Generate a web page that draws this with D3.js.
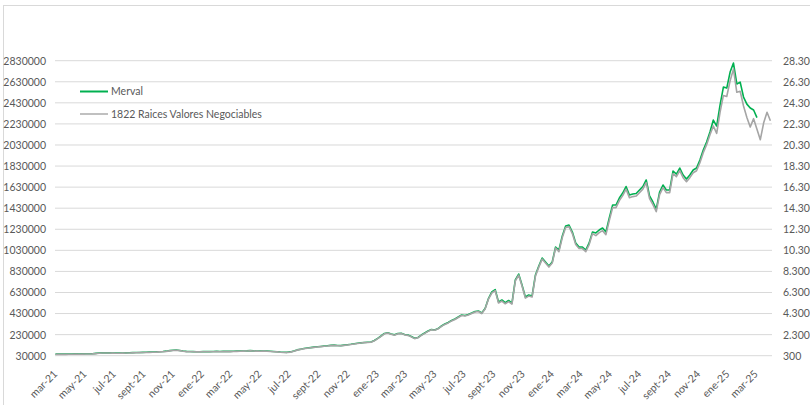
<!DOCTYPE html>
<html>
<head>
<meta charset="utf-8">
<script src="https://cdn.jsdelivr.net/npm/d3@7"></script>
<style>
  body { margin: 0; background: #fff; }
  svg { display: block; font-family: Lato, "Liberation Sans", sans-serif; }
</style>
</head>
<body>
<svg id="chart" width="810" height="405"></svg>
<script>
// Weekly closes, first observation Monday 1 March 2021
const firstWeek = "2021-03-01";

// S&P Merval index (points) – left axis
const merval = [
  45000, 45000, 46000, 45000, 46000, 46000, 47000, 46000, 47000, 48000, 48000, 49000,
  52000, 55000, 57000, 58000,
  57000, 56000, 55000, 55000, 56000, 57000, 58000, 59000, 60000,
  61000, 62000, 63000, 64000, 65000, 66000, 68000, 70000, 73000,
  78000, 82000, 84000, 80000,
  74000, 71000, 70000, 69000, 68000, 68000,
  69000, 70000, 69000, 70000, 71000, 70000, 71000, 72000, 71000, 72000, 73000, 74000, 75000, 76000,
  78000, 76000, 75000, 74000, 75000, 74000,
  72000, 70000, 68000, 65000, 63000, 62000,
  66000, 75000, 85000, 92000, 98000, 103000, 107000, 111000, 115000, 118000,
  121000, 124000, 128000, 130000, 127000, 126000, 130000,
  134000, 138000, 143000, 148000, 152000, 156000, 158000,
  160000, 174000, 195000, 217000, 241000, 248000, 236000, 228000, 241000, 243000,
  231000, 226000, 212000, 195000, 203000, 226000, 245000, 264000, 279000, 274000,
  288000, 312000, 331000, 345000, 364000, 378000, 397000, 416000, 412000, 421000,
  435000, 450000, 454000, 435000, 478000, 573000,
  635000, 658000, 540000, 559000, 533000, 554000, 530000, 749000, 805000, 701000,
  587000, 606000, 597000, 796000, 881000, 957000, 919000, 881000, 919000, 1062000,
  1033000, 1166000, 1261000, 1270000, 1204000, 1100000, 1062000, 1062000, 1033000, 1100000,
  1204000,
  1195000, 1223000, 1242000, 1204000, 1337000, 1460000, 1460000, 1527000, 1574000, 1636000,
  1555000, 1565000, 1570000, 1603000, 1636000, 1698000, 1546000, 1489000, 1422000, 1584000,
  1650000, 1603000, 1603000, 1783000, 1754000, 1811000, 1745000, 1707000, 1745000, 1792000,
  1811000, 1887000, 1982000, 2058000, 2153000,
  2267000, 2210000, 2409000, 2580000, 2570000, 2722000, 2808000, 2609000, 2627000, 2485000,
  2418000, 2381000, 2362000, 2290000
];

// 1822 Raices Valores Negociables – share value, right axis
const raices = [
  430, 430, 440, 430, 440, 440, 450, 440, 450, 460, 460, 470,
  500, 530, 550, 560,
  550, 540, 530, 530, 540, 550, 560, 570, 580,
  590, 600, 610, 620, 630, 640, 660, 680, 710,
  760, 800, 820, 780,
  720, 690, 680, 670, 660, 660,
  670, 680, 670, 680, 690, 680, 690, 700, 690, 700, 710, 720, 730, 740,
  760, 740, 730, 720, 730, 720,
  700, 680, 660, 630, 610, 600,
  640, 730, 830, 900, 960, 1010, 1050, 1090, 1130, 1160,
  1190, 1220, 1260, 1280, 1250, 1240, 1280,
  1320, 1360, 1410, 1460, 1500, 1540, 1560,
  1570, 1710, 1920, 2140, 2380, 2450, 2330, 2250, 2380, 2400,
  2280, 2230, 2090, 1920, 2000, 2230, 2420, 2610, 2760, 2710,
  2850, 3080, 3270, 3410, 3600, 3740, 3930, 4110, 4070, 4160,
  4300, 4450, 4490, 4300, 4730, 5670,
  6250, 6480, 5300, 5490, 5230, 5440, 5200, 7390, 7950, 6910,
  5770, 5960, 5870, 7860, 8710, 9470, 9090, 8710, 9090, 10520,
  10180, 11510, 12460, 12550, 11890, 10850, 10470, 10470, 10180, 10850,
  11890,
  11700, 11980, 12170, 11790, 13120, 14350, 14350, 15020, 15490, 16110,
  15300, 15400, 15450, 15780, 16110, 16730, 15210, 14640, 13970, 15590,
  16250, 15780, 15780, 17580, 17290, 17860, 17200, 16820, 17200, 17670,
  17860, 18620, 19570, 20330, 21280,
  22100, 21400, 23400, 25000, 24900, 26400, 27500, 25300, 25400, 24000,
  22900, 22000, 22800, 21800, 20800, 22400, 23400, 22600
];

const seriesNames = ["Merval", "1822 Raices Valores Negociables"];
const seriesColors = ["#00b050", "#a5a5a5"];

const leftTicks = [30000, 230000, 430000, 630000, 830000, 1030000, 1230000, 1430000,
                   1630000, 1830000, 2030000, 2230000, 2430000, 2630000, 2830000];
const rightTicks = [300, 2300, 4300, 6300, 8300, 10300, 12300, 14300,
                    16300, 18300, 20300, 22300, 24300, 26300, 28300];
const monthNames = ["ene", "feb", "mar", "abr", "may", "jun",
                    "jul", "ago", "sept", "oct", "nov", "dic"];

// ---- layout ----
const svg = d3.select("#chart");
const plot = { left: 55, right: 772, top: 60.7, bottom: 355.7 };

const parse = d3.timeParse("%Y-%m-%d");
const start = parse(firstWeek);
const weeks = n => d3.range(n).map(i => d3.timeDay.offset(start, 7 * i));
const mervalDates = weeks(merval.length);
const raicesDates = weeks(raices.length);

const x = d3.scaleTime()
  .domain([new Date(2021, 2, 1), new Date(2025, 2, 1)])
  .range([55.5, 756]);
const yLeft = d3.scaleLinear()
  .domain([leftTicks[0], leftTicks[leftTicks.length - 1]])
  .range([plot.bottom, plot.top]);
const yRight = d3.scaleLinear()
  .domain([rightTicks[0], rightTicks[rightTicks.length - 1]])
  .range([plot.bottom, plot.top]);

// outer chart frame
svg.append("rect")
  .attr("x", 3.5).attr("y", 5.5)
  .attr("width", 900).attr("height", 500)
  .attr("fill", "none").attr("stroke", "#d9d9d9");

// horizontal gridlines
svg.append("g")
  .selectAll("line")
  .data(leftTicks)
  .join("line")
  .attr("x1", plot.left).attr("x2", plot.right)
  .attr("y1", d => yLeft(d)).attr("y2", d => yLeft(d))
  .attr("stroke", "#d9d9d9").attr("stroke-width", 1);

// left axis
const leftAxis = svg.append("g")
  .attr("transform", `translate(${plot.left - 9},0)`)
  .call(d3.axisLeft(yLeft).tickValues(leftTicks).tickFormat(d3.format("d")).tickSize(0).tickPadding(0));
leftAxis.select(".domain").remove();
leftAxis.selectAll("text")
  .attr("fill", "#595959").attr("font-size", "10.5px").attr("font-family", "Lato, sans-serif");

// right axis (thousands separated by dots)
const es = d3.formatLocale({ decimal: ",", thousands: ".", grouping: [3], currency: ["$", ""] });
const rightAxis = svg.append("g")
  .attr("transform", `translate(${plot.right + 11},0)`)
  .call(d3.axisRight(yRight).tickValues(rightTicks).tickFormat(es.format(",")).tickSize(0).tickPadding(0));
rightAxis.select(".domain").remove();
rightAxis.selectAll("text")
  .attr("fill", "#595959").attr("font-size", "10.5px").attr("font-family", "Lato, sans-serif");

// bottom axis: every two months, labels slanted
const tickDates = d3.timeMonth.every(2).range(new Date(2021, 2, 1), new Date(2025, 2, 2));
const fmtTick = d => `${monthNames[d.getMonth()]}-${String(d.getFullYear()).slice(2)}`;
const bottomAxis = svg.append("g")
  .attr("transform", `translate(0,${plot.bottom})`)
  .call(d3.axisBottom(x).tickValues(tickDates).tickFormat(fmtTick).tickSize(0).tickPadding(0));
bottomAxis.select(".domain").remove();
bottomAxis.selectAll("text")
  .attr("fill", "#595959").attr("font-size", "10.5px").attr("font-family", "Lato, sans-serif")
  .attr("text-anchor", "end")
  .attr("dy", 0)
  .attr("transform", "translate(2,19) rotate(-45)");

// series lines (the fund is drawn over the index)
const lineLeft = d3.line().x((d, i) => x(mervalDates[i])).y(d => yLeft(d));
const lineRight = d3.line().x((d, i) => x(raicesDates[i])).y(d => yRight(d));

svg.append("path")
  .datum(merval)
  .attr("d", lineLeft)
  .attr("fill", "none").attr("stroke", seriesColors[0])
  .attr("stroke-width", 1.6).attr("stroke-linejoin", "round");

svg.append("path")
  .datum(raices)
  .attr("d", lineRight)
  .attr("fill", "none").attr("stroke", seriesColors[1])
  .attr("stroke-width", 1.6).attr("stroke-linejoin", "round");

// legend
const legend = svg.append("g").attr("transform", "translate(80,91.5)");
const items = legend.selectAll("g")
  .data(seriesNames)
  .join("g")
  .attr("transform", (d, i) => `translate(0,${i * 22.5})`);
items.append("line")
  .attr("x1", 0).attr("x2", 28).attr("y1", 0).attr("y2", 0)
  .attr("stroke", (d, i) => seriesColors[i])
  .attr("stroke-width", (d, i) => i === 0 ? 2 : 1.4);
items.append("text")
  .attr("x", 31).attr("y", 0).attr("dy", "0.35em")
  .attr("fill", "#595959").attr("font-size", "10.5px")
  .text(d => d);
</script>
</body>
</html>
